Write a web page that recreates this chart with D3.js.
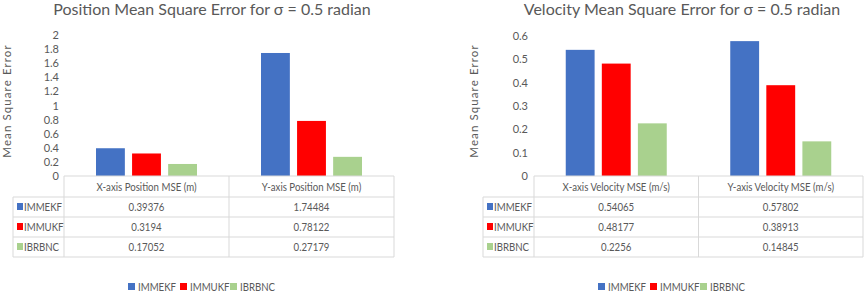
<!DOCTYPE html>
<html>
<head>
<meta charset="utf-8">
<script src="https://cdn.jsdelivr.net/npm/d3@7"></script>
<style>
  body { margin: 0; background: #fff; }
  svg text { font-family: Lato, "Open Sans", sans-serif; fill: #595959; }
  .small { font-size: 11.5px; }
</style>
</head>
<body>
<div id="chart"></div>
<script>
// series + categories
var series_names = ['IMMEKF', 'IMMUKF', 'IBRBNC'];
var series_colors = ['#4472C4', '#FF0000', '#A9D18E'];

var pos_categories = ['X-axis Position MSE (m)', 'Y-axis Position MSE (m)'];
var pos_immekf = [0.39376, 1.74484];
var pos_immukf = [0.3194, 0.78122];
var pos_ibrbnc = [0.17052, 0.27179];
var pos_ticks = [0, 0.2, 0.4, 0.6, 0.8, 1, 1.2, 1.4, 1.6, 1.8, 2];

var vel_categories = ['X-axis Velocity MSE (m/s)', 'Y-axis Velocity MSE (m/s)'];
var vel_immekf = [0.54065, 0.57802];
var vel_immukf = [0.48177, 0.38913];
var vel_ibrbnc = [0.2256, 0.14845];
var vel_ticks = [0, 0.1, 0.2, 0.3, 0.4, 0.5, 0.6];

var width = 865, height = 293;
var grid_color = '#D9D9D9';
var squeeze = 0.84; // narrow the table/legend text a bit

var svg = d3.select('#chart')
    .append('svg')
    .attr('width', width)
    .attr('height', height);

function smallText(parent, x, y, str, anchor) {
    return parent.append('text')
        .attr('class', 'small')
        .attr('transform', 'translate(' + x + ',' + y + ') scale(' + squeeze + ',1)')
        .attr('dy', '0.35em')
        .attr('text-anchor', anchor || 'start')
        .text(str);
}

function drawChart(opts) {
    var g = svg.append('g');
    var values = [opts.a, opts.b, opts.c];
    var row_h = 20;
    var head_top = opts.y0, head_bot = opts.y0 + 21;

    // title
    g.append('text')
        .attr('x', opts.titleX)
        .attr('y', 15)
        .attr('text-anchor', 'middle')
        .style('font-size', '16px')
        .text(opts.title);

    var y_scale = d3.scaleLinear()
        .domain([0, opts.max])
        .range([opts.y0, opts.yTop]);

    var x_scale = d3.scaleBand()
        .domain(opts.categories)
        .range([opts.catLeft, opts.catRight]);

    var bw = x_scale.bandwidth();
    var x_inner = d3.scaleBand()
        .domain(series_names)
        .range([bw / 2 - 50.5, bw / 2 + 50.5])
        .paddingInner(0.2);

    // y axis (labels only)
    var y_axis = d3.axisLeft(y_scale)
        .tickValues(opts.ticks)
        .tickSize(0)
        .tickPadding(0)
        .tickFormat(d3.format('~g'));

    var ax = g.append('g')
        .attr('transform', 'translate(' + opts.tickX + ',0)')
        .call(y_axis);
    ax.select('.domain').remove();
    ax.selectAll('text')
        .style('font-size', '11px')
        .attr('fill', '#595959');

    // y axis title
    g.append('text')
        .attr('transform', 'translate(' + opts.labelX + ',' + 101 + ') rotate(-90)')
        .attr('text-anchor', 'middle')
        .attr('dy', '0.35em')
        .style('font-size', '11.5px')
        .style('letter-spacing', '1.1px')
        .text('Mean Square Error');

    // bars
    series_names.forEach(function(s, si) {
        g.selectAll('.bar-' + si)
            .data(values[si])
            .enter()
            .append('rect')
            .attr('x', function(d, i) {
                return x_scale(opts.categories[i]) + x_inner(s);
            })
            .attr('y', function(d) { return y_scale(d); })
            .attr('width', x_inner.bandwidth())
            .attr('height', function(d) { return opts.y0 - y_scale(d); })
            .attr('fill', series_colors[si]);
    });

    // data table
    var t = g.append('g')
        .attr('fill', 'none')
        .attr('stroke', grid_color)
        .attr('stroke-width', 1);
    var bottom = head_bot + row_h * 3;
    t.append('path')
        .attr('d',
            'M' + opts.catLeft + ',' + head_top + 'H' + opts.catRight +
            'M' + opts.tableLeft + ',' + head_bot + 'H' + opts.catRight +
            'M' + opts.tableLeft + ',' + (head_bot + row_h) + 'H' + opts.catRight +
            'M' + opts.tableLeft + ',' + (head_bot + row_h * 2) + 'H' + opts.catRight +
            'M' + opts.tableLeft + ',' + bottom + 'H' + opts.catRight +
            'M' + opts.tableLeft + ',' + head_bot + 'V' + bottom +
            'M' + opts.catLeft + ',' + head_top + 'V' + bottom +
            'M' + (opts.catLeft + bw) + ',' + head_top + 'V' + bottom +
            'M' + opts.catRight + ',' + head_top + 'V' + bottom);

    opts.categories.forEach(function(c) {
        smallText(g, x_scale(c) + bw / 2, (head_top + head_bot) / 2, c, 'middle');
    });

    series_names.forEach(function(s, si) {
        var cy = head_bot + row_h * si + row_h / 2;
        g.append('rect')
            .attr('x', opts.tableLeft + 4)
            .attr('y', cy - 4)
            .attr('width', 6)
            .attr('height', 7)
            .attr('fill', series_colors[si]);
        smallText(g, opts.tableLeft + 11, cy, s);
        values[si].forEach(function(v, i) {
            smallText(g, x_scale(opts.categories[i]) + bw / 2, cy, String(v), 'middle');
        });
    });

    // legend
    var leg = g.append('g')
        .attr('transform', 'translate(' + opts.legendX + ',287)');
    var leg_x = [0, 52, 102];
    series_names.forEach(function(s, si) {
        leg.append('rect')
            .attr('x', leg_x[si])
            .attr('y', -4)
            .attr('width', 7)
            .attr('height', 7)
            .attr('fill', series_colors[si]);
        smallText(leg, leg_x[si] + 10, 0, s);
    });
}

drawChart({
    title: 'Position Mean Square Error for \u03c3 = 0.5 radian',
    titleX: 212,
    categories: pos_categories,
    a: pos_immekf, b: pos_immukf, c: pos_ibrbnc,
    ticks: pos_ticks, max: 2,
    y0: 176, yTop: 35,
    tableLeft: 13, catLeft: 64, catRight: 394,
    tickX: 59, labelX: 7,
    legendX: 128
});

drawChart({
    title: 'Velocity Mean Square Error for \u03c3 = 0.5 radian',
    titleX: 682,
    categories: vel_categories,
    a: vel_immekf, b: vel_immukf, c: vel_ibrbnc,
    ticks: vel_ticks, max: 0.6,
    y0: 176, yTop: 36,
    tableLeft: 483, catLeft: 534, catRight: 863,
    tickX: 528, labelX: 474,
    legendX: 598
});
</script>
</body>
</html>
